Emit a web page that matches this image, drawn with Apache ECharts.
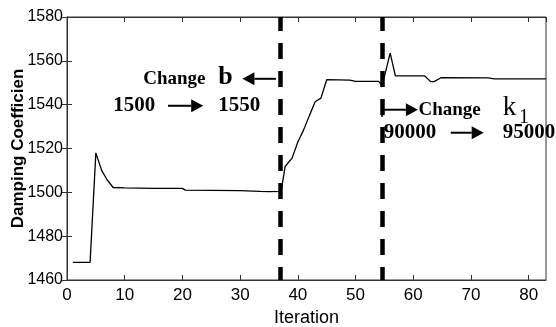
<!DOCTYPE html>
<html>
<head>
<meta charset="utf-8">
<script src="https://cdn.jsdelivr.net/npm/echarts@6/dist/echarts.min.js"></script>
<style>
  html, body { margin: 0; padding: 0; background: #fff; }
  #chart { width: 556px; height: 327px; }
</style>
</head>
<body>
<div id="chart"></div>
<script>
// iterations and damping coefficient
const iterations = [1, 4, 5, 6, 7, 8, 10, 15, 20, 20.5, 25, 30, 33.5, 35, 37,
  37.2, 37.8, 39, 40, 41, 42, 43, 44, 45, 49, 50, 54, 54.6, 56, 56.9, 62, 63, 63.6, 64.8, 73, 74, 83]
const damping = [1468, 1468, 1518, 1510, 1505.5, 1502.2, 1502, 1501.8, 1501.8, 1501, 1500.9, 1500.8, 1500.4, 1500.3, 1500.4,
  1502, 1511.8, 1515.6, 1523, 1528.5, 1535, 1541.3, 1543, 1551.4, 1551.2, 1550.6, 1550.6, 1548.6, 1563.5, 1553.2, 1553.1, 1550.5, 1550.5, 1552.3, 1552.2, 1551.8, 1551.8]
// iterations where the parameters were changed
const changeAt = [37, 54.6]

const xTicks = { min: 0, max: 83, interval: 10 }
const yTicks = { min: 1460, max: 1580, interval: 20 }

let mycharts = echarts.init(document.getElementById('chart'))

const axisColor = '#333'
mycharts.setOption({
    animation: false,
    grid: { left: 67, top: 17, right: 10, bottom: 47, outerBoundsMode: 'none', show: true, borderColor: axisColor, borderWidth: 1 },
    xAxis: [
        {
            type: 'value', min: xTicks.min, max: xTicks.max, interval: xTicks.interval,
            name: 'Iteration', nameLocation: 'middle', nameGap: 21,
            nameTextStyle: { fontFamily: 'Liberation Sans', fontSize: 18, color: '#000' },
            axisLine: { show: true, lineStyle: { color: axisColor } },
            axisTick: { show: true, inside: true, length: 5, lineStyle: { color: axisColor } },
            axisLabel: { fontFamily: 'Liberation Sans', fontSize: 17, color: '#000', margin: 7, showMaxLabel: false },
            splitLine: { show: false }
        },
        {
            type: 'value', position: 'top', min: xTicks.min, max: xTicks.max, interval: xTicks.interval,
            axisLine: { show: true, lineStyle: { color: axisColor } },
            axisTick: { show: true, inside: true, length: 5, lineStyle: { color: axisColor } },
            axisLabel: { show: false },
            splitLine: { show: false }
        }
    ],
    yAxis: [
        {
            type: 'value', min: yTicks.min, max: yTicks.max, interval: yTicks.interval,
            name: 'Damping Coefficien', nameLocation: 'middle', nameGap: 40, nameMoveOverlap: false,
            nameTextStyle: { fontFamily: 'Liberation Sans', fontSize: 17, fontWeight: 'bold', color: '#000' },
            axisLine: { show: true, lineStyle: { color: axisColor } },
            axisTick: { show: true, inside: true, length: 5, lineStyle: { color: axisColor } },
            axisLabel: { fontFamily: 'Liberation Sans', fontSize: 16, color: '#000', margin: 4, formatter: v => String(v) },
            splitLine: { show: false }
        },
        {
            type: 'value', position: 'right', min: yTicks.min, max: yTicks.max, interval: yTicks.interval,
            axisLine: { show: true, lineStyle: { color: axisColor } },
            axisTick: { show: true, inside: true, length: 5, lineStyle: { color: axisColor } },
            axisLabel: { show: false },
            splitLine: { show: false }
        }
    ],
    series: [
        {
            type: 'line',
            data: iterations.map((x, i) => [x, damping[i]]),
            showSymbol: false,
            lineStyle: { color: '#000', width: 1.3 },
            markLine: {
                silent: true,
                symbol: 'none',
                label: { show: false },
                lineStyle: { color: '#000', width: 4.5, type: [16, 12], dashOffset: 3 },
                data: changeAt.map(v => ({ xAxis: v }))
            }
        }
    ]
})

// annotations, placed in data coordinates
const px = p => mycharts.convertToPixel({ gridIndex: 0 }, p)
const serif = 'Liberation Serif'

function label(text, at, size, weight, align) {
    const p = px(at)
    return {
        type: 'text', x: p[0], y: p[1],
        style: { text: text, fontFamily: serif, fontSize: size, fontWeight: weight || 'bold',
            fill: '#000', align: align || 'left', verticalAlign: 'middle' }
    }
}
function arrow(from, to, bar) {
    const a = px(from), b = px(to)
    const dir = Math.sign(b[0] - a[0])
    const headLen = 12, headH = 6.5
    const els = [
        { type: 'line', shape: { x1: a[0], y1: a[1], x2: b[0] - dir * headLen, y2: b[1] }, style: { stroke: '#000', lineWidth: 2 } },
        { type: 'polygon', shape: { points: [[b[0], b[1]], [b[0] - dir * headLen, b[1] - headH], [b[0] - dir * headLen, b[1] + headH]] }, style: { fill: '#000' } }
    ]
    if (bar) {
        els.push({ type: 'line', shape: { x1: a[0], y1: a[1] - 7, x2: a[0], y2: a[1] + 7 }, style: { stroke: '#000', lineWidth: 2 } })
    }
    return els
}

mycharts.setOption({
    graphic: [
        label('Change', [13.2, 1551.8], 19),
        label('b', [26.2, 1552.5], 26),
        ...arrow([36.2, 1551.8], [30.4, 1551.8]),
        label('1500', [8.0, 1539.5], 21),
        ...arrow([17.5, 1539.5], [23.6, 1539.5]),
        label('1550', [26.2, 1539.5], 21),

        ...arrow([54.6, 1537.7], [60.8, 1537.7], true),
        label('Change', [60.9, 1537.7], 19),
        label('k', [75.5, 1538.4], 27, 'normal'),
        label('1', [78.3, 1534.2], 20, 'normal'),
        label('90000', [54.9, 1527.2], 21),
        ...arrow([66.5, 1527.2], [72.2, 1527.2]),
        label('95000', [75.5, 1527.2], 21)
    ]
})
</script>
</body>
</html>
